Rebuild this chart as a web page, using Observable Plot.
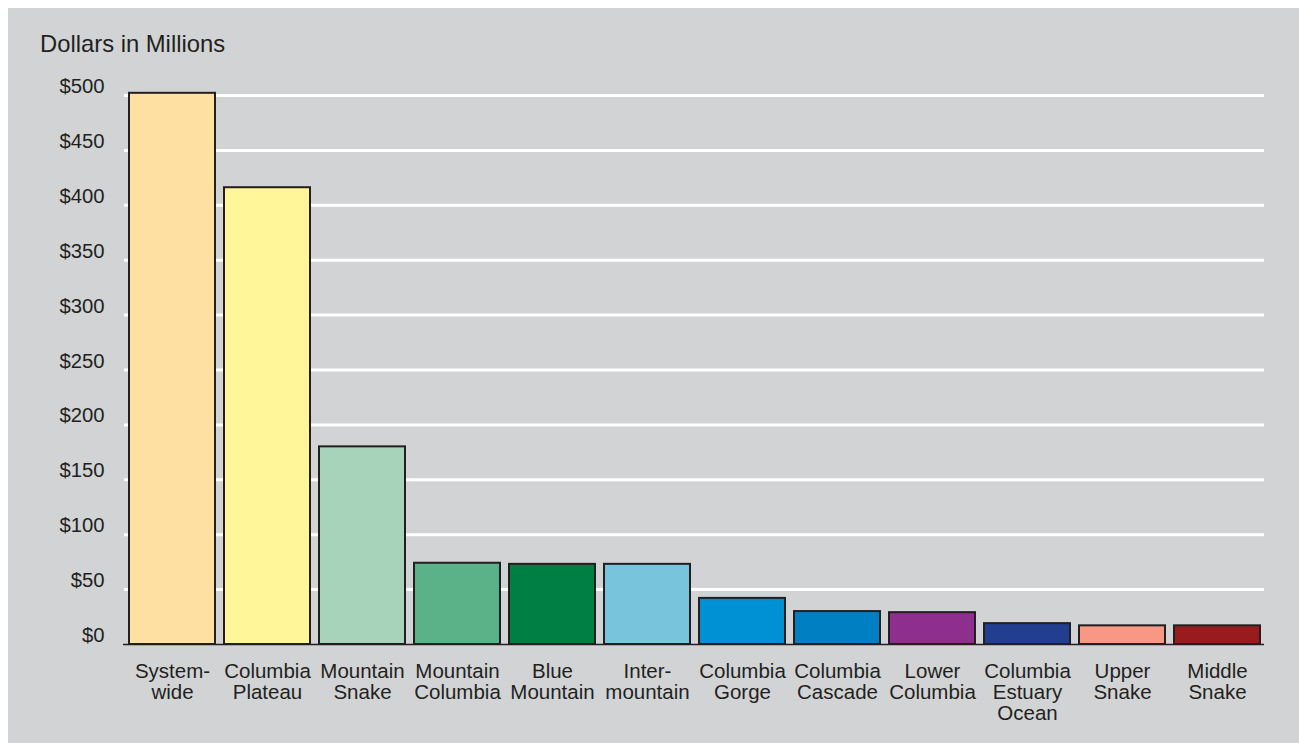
<!DOCTYPE html>
<html>
<head>
<meta charset="utf-8">
<script src="https://cdn.jsdelivr.net/npm/d3@7"></script>
<script src="https://cdn.jsdelivr.net/npm/@observablehq/plot@0.6"></script>
<style>
  html, body { margin: 0; padding: 0; background: #ffffff; }
  #page { position: relative; width: 1299px; height: 743px; overflow: hidden; font-family: "Liberation Sans", Arial, Helvetica, sans-serif; color: #231f20; }
  #panel { position: absolute; left: 8px; top: 8px; right: 0; bottom: 0; background: #d2d3d5; }
  #title { position: relative; height: 60px; box-sizing: border-box; padding-left: 40px; padding-top: 32px; font-size: 23.8px; line-height: 1; white-space: nowrap; }
  #chart { position: relative; }
  #chart svg { display: block; }
</style>
</head>
<body>
<div id="page">
  <div id="panel"></div>
  <div id="title">Dollars in Millions</div>
  <div id="chart"></div>
</div>
<script>
const regions = ["Systemwide", "Columbia Plateau", "Mountain Snake", "Mountain Columbia", "Blue Mountain", "Intermountain", "Columbia Gorge", "Columbia Cascade", "Lower Columbia", "Columbia Estuary Ocean", "Upper Snake", "Middle Snake"];
const labels = ["System-\nwide", "Columbia\nPlateau", "Mountain\nSnake", "Mountain\nColumbia", "Blue\nMountain", "Inter-\nmountain", "Columbia\nGorge", "Columbia\nCascade", "Lower\nColumbia", "Columbia\nEstuary\nOcean", "Upper\nSnake", "Middle\nSnake"];
const values = [502, 416, 180, 74, 73, 73, 42, 30, 29, 19, 17, 17];
const colors = ["#fee0a2", "#fff599", "#a8d3bb", "#5bb188", "#007f44", "#78c4dc", "#0090d4", "#007fc3", "#8e2f8d", "#223f8f", "#f79885", "#981b1e"];
const yTicks = [0, 50, 100, 150, 200, 250, 300, 350, 400, 450, 500];
const yTickLabels = ["$0", "$50", "$100", "$150", "$200", "$250", "$300", "$350", "$400", "$450", "$500"];

const data = regions.map((r, i) => ({region: r, label: labels[i], value: values[i], color: colors[i]}));

const chart = Plot.plot({
  width: 1299,
  height: 683,
  marginTop: 35,
  marginBottom: 99,
  marginLeft: 124,
  marginRight: 35,
  style: {background: "transparent", color: "#231f20", fontFamily: "'Liberation Sans', Arial, Helvetica, sans-serif"},
  x: {domain: regions, paddingInner: 0.1, paddingOuter: 0.05, axis: null},
  y: {domain: [0, 500], axis: null},
  color: {type: "identity"},
  marks: [
    Plot.ruleY(yTicks.filter(d => d > 0), {stroke: "#ffffff", strokeWidth: 3}),
    Plot.barY(data, {x: "region", y: "value", fill: "color", stroke: "#231f20", strokeWidth: 2}),
    Plot.ruleY([0], {stroke: "#231f20", strokeWidth: 1.6, insetLeft: -1}),
    Plot.axisY({ticks: yTicks, tickFormat: d => yTickLabels[yTicks.indexOf(d)], tickSize: 0, tickPadding: 20, fontSize: 20.3, dy: -9, label: null}),
    Plot.text(data, {x: "region", text: "label", frameAnchor: "bottom", lineAnchor: "top", dy: 18, fontSize: 20.5, lineHeight: 1.03, fill: "#231f20"})
  ]
});
document.getElementById("chart").appendChild(chart);
</script>
</body>
</html>
